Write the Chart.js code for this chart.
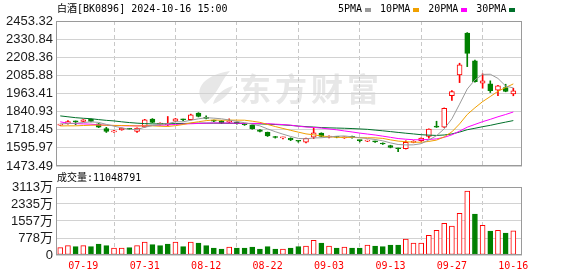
<!DOCTYPE html>
<html><head><meta charset="utf-8">
<script src="https://cdn.jsdelivr.net/npm/chart.js@4.4.1/dist/chart.umd.min.js"></script>
<style>
html,body{margin:0;padding:0;background:#fff;width:578px;height:276px;overflow:hidden;}
#wrap{position:relative;width:578px;height:276px;}
canvas{position:absolute;left:0;top:0;}
.t{position:absolute;font-family:"DejaVu Sans Mono","Noto Sans CJK SC",monospace;font-size:10px;line-height:14px;color:#000;white-space:pre;}
#legend{display:flex;align-items:center;}
#legend .sq{display:inline-block;width:6px;height:4px;margin:1px 9px 0 3px;}
</style></head><body>
<div id="wrap">
<canvas id="price" width="578" height="276"></canvas>
<canvas id="vol" width="578" height="276"></canvas>
<div class="t" id="title" style="left:57px;top:2px;"></div>
<div class="t" id="legend" style="left:338px;top:2px;"></div>
<div class="t" id="volLabel" style="left:57px;top:171px;"></div>
</div>
<script>
// ---------- data ----------
const titleText = '白酒[BK0896] 2024-10-16 15:00';
const volumeText = '成交量:11048791';
const dates = ['07-16','07-17','07-18','07-19','07-22','07-23','07-24','07-25','07-26','07-29',
 '07-30','07-31','08-01','08-02','08-05','08-06','08-07','08-08','08-09','08-12',
 '08-13','08-14','08-15','08-16','08-19','08-20','08-21','08-22','08-23','08-26',
 '08-27','08-28','08-29','08-30','09-02','09-03','09-04','09-05','09-06','09-09',
 '09-10','09-11','09-12','09-13','09-18','09-19','09-20','09-23','09-24','09-25',
 '09-26','09-27','09-30','10-08','10-09','10-10','10-11','10-14','10-15','10-16'];
const axisDates = ['07-19','07-31','08-12','08-22','09-03','09-13','09-27','10-16'];
const priceTicks = ['1473.49','1595.97','1718.45','1840.93','1963.41','2085.88','2208.36','2330.84','2453.32'];
const volumeTicks = ['0','778万','1557万','2335万','3113万'];
const maNames = ['5PMA','10PMA','20PMA','30PMA'];

const openP  = [1750,1759,1776,1774,1789,1759,1727,1703,1718,1724,1707,1738,1791,1756,1753,1777,1787,1786,1831,1797,
 1781,1778,1769,1768,1759,1748,1718,1701,1669,1664,1661,1643,1634,1668,1696,1668,1671,1664,1671,1648,
 1642,1640,1628,1612,1593,1590,1633,1644,1673,1740,1736,1949,2089,2372,2184,2033,2028,1986,2004,1961];
const highP  = [1756,1780,1778,1787,1791,1761,1735,1714,1731,1727,1731,1789,1794,1766,1808,1795,1791,1824,1834,1812,
 1784,1781,1792,1770,1762,1752,1720,1703,1674,1669,1664,1644,1662,1732,1698,1677,1673,1671,1675,1649,
 1649,1642,1630,1614,1594,1644,1645,1664,1725,1776,1866,1983,2168,2375,2190,2096,2049,2018,2026,1999];
const lowP   = [1747,1756,1752,1772,1772,1733,1700,1700,1715,1719,1700,1735,1765,1750,1745,1774,1780,1784,1805,1792,
 1773,1760,1766,1756,1748,1722,1704,1673,1662,1656,1645,1634,1630,1658,1670,1663,1664,1660,1662,1636,
 1638,1632,1619,1596,1570,1588,1630,1640,1662,1734,1733,1916,2037,2145,2040,1999,1970,1948,1975,1948];
const closeP = [1753,1774,1772,1785,1774,1736,1707,1711,1729,1722,1729,1786,1768,1760,1757,1792,1785,1819,1808,1795,
 1777,1763,1779,1759,1752,1726,1707,1676,1666,1668,1649,1641,1660,1698,1673,1675,1668,1669,1667,1645,
 1647,1636,1622,1599,1590,1633,1638,1662,1723,1736,1864,1977,2157,2235,2044,2049,1983,2015,1977,1981];
const prevClose = 1745;
// volume in 万
const volume = [334,426,381,426,381,504,426,320,320,334,426,595,473,426,504,595,381,595,549,426,
 320,275,366,320,320,366,275,381,275,275,320,381,412,672,549,412,320,366,320,320,
 458,412,381,458,458,732,549,549,900,1130,1450,1328,1908,2930,1877,1358,1099,1130,1007,1105];

const ma5 = [1758,1760,1763,1767,1771.6,1768.2,1754.8,1742.6,1731.4,1721,1719.6,1735.4,1746.8,1753,1760,1772.6,1772.4,1782.6,1792.2,1799.8,
 1796.8,1792.4,1784.4,1774.6,1766,1755.8,1744.6,1724,1705.4,1688.6,1673.2,1660,1656.8,1663.2,1664.2,1669.4,1674.8,1676.6,1670.4,1664.8,
 1659.2,1652.8,1643.4,1629.8,1618.8,1616,1616.4,1624.4,1649.2,1678.4,1724.6,1792.4,1891.4,1993.8,2055.4,2092.4,2093.6,2065.2,2013.6,2001];
const ma10 = [1744,1745,1745,1747,1749,1750,1749,1748,1747,1746.3,1743.9,1745.1,1744.7,1742.2,1740.5,1746.1,1753.9,1764.7,1772.6,1779.9,
 1784.7,1782.4,1783.5,1783.4,1782.9,1776.3,1768.5,1754.2,1740,1727.3,1714.5,1702.3,1690.4,1684.3,1676.4,1671.3,1667.4,1666.7,1666.8,1664.5,
 1664.3,1663.8,1660,1650.1,1641.8,1637.6,1634.6,1633.9,1639.5,1648.6,1670.3,1704.4,1757.9,1821.5,1866.9,1908.5,1943,1978.3,2003.7,2028.2];
const ma20 = [1772,1762,1760,1758,1756,1752,1749,1747,1746,1745,1745,1746,1747,1749,1751,1754,1757,1759,1761,1763.1,
 1764.3,1763.8,1764.1,1762.8,1761.7,1761.2,1761.2,1759.5,1756.3,1753.6,1749.6,1742.4,1737,1733.9,1729.7,1723.8,1718,1710.5,1703.4,1695.9,
 1689.4,1683.1,1675.2,1667.2,1659.1,1654.5,1651,1650.3,1653.2,1656.6,1667.3,1684.1,1709,1735.8,1754.4,1773.1,1788.8,1806.1,1821.6,1838.4];
const ma30 = [1812,1806,1800,1796,1793,1787,1782,1778,1772,1767,1763,1760,1758,1758,1759,1760,1761,1762,1763,1763,
 1763,1763,1762,1762,1761,1760,1758,1756,1754,1751.2,1747.7,1743.3,1739.5,1736.6,1733.3,1731.2,1729.9,1728.5,1726.5,1723.9,
 1721.2,1716.2,1711.3,1705.9,1700.4,1695.1,1690.2,1684.9,1682.1,1680.1,1683,1690.2,1702.8,1718.6,1728.4,1739.1,1748.3,1759.6,1770,1780.4];

// ---------- styles ----------
const RED = '#ff0000', GREEN = '#008000';
const MA_COLORS = ['#9a9a9a','#f0a000','#ff00ff','#00702a'];
const FRAME = '#9a9a9a', GRID = '#d2d2d2', VGRID = '#c8c8c8';
const AXIS_FONT = {family:'"Liberation Sans","Noto Sans CJK SC",Arial,sans-serif', size:13};
const X_MIN = -0.555, X_MAX = 60.13;

document.getElementById('title').textContent = titleText;
document.getElementById('volLabel').textContent = volumeText;
const lg = document.getElementById('legend');
maNames.forEach((n,k)=>{
  const s = document.createElement('span'); s.textContent = n; lg.appendChild(s);
  const q = document.createElement('span'); q.className='sq'; q.style.background = MA_COLORS[k]; lg.appendChild(q);
});

const idx = dates.map((d,i)=>i);
const isUp = i => closeP[i] >= openP[i];
const volUp = i => closeP[i] >= (i === 0 ? prevClose : closeP[i-1]);
const tickIdx = axisDates.map(d => dates.indexOf(d));

const framePlugin = {
  id:'frame',
  afterDatasetsDraw(chart){
    const {ctx, chartArea:a} = chart;
    ctx.save(); ctx.strokeStyle = FRAME; ctx.lineWidth = 1;
    ctx.strokeRect(a.left+0.5, a.top+0.5, a.right-a.left-1, a.bottom-a.top-1);
    ctx.restore();
  }
};
const watermark = {
  id:'watermark',
  beforeDraw(chart){
    const ctx = chart.ctx; ctx.save();
    ctx.fillStyle = '#e7e7e7';
    ctx.beginPath();
    ctx.moveTo(205,104); ctx.bezierCurveTo(193,92,200,76,230,71);
    ctx.bezierCurveTo(221,80,219,93,205,104); ctx.fill();
    ctx.beginPath();
    ctx.moveTo(213,104); ctx.bezierCurveTo(215,95,224,88,233,86);
    ctx.bezierCurveTo(229,94,222,101,213,104); ctx.fill();
    ctx.font = 'bold 32px "Noto Sans CJK SC"';
    ctx.letterSpacing = '4px';
    ctx.textBaseline = 'middle';
    ctx.fillText('东方财富', 239, 89);
    ctx.restore();
  }
};

const xScaleBase = {
  type:'linear', min:X_MIN, max:X_MAX, offset:false,
  afterBuildTicks: s => { s.ticks = tickIdx.map(v => ({value:v})); },
  grid:{color:VGRID, drawTicks:false},
  border:{display:false, dash:[4,3]}
};

new Chart(document.getElementById('price'), {
  type:'bar',
  data:{datasets:[
    ...[ma5,ma10,ma20,ma30].map((arr,k)=>({
      type:'line', label:maNames[k], data:arr.map((v,i)=>({x:i,y:v})),
      borderColor:MA_COLORS[k], borderWidth:1, pointRadius:0, tension:0, fill:false, order:-4+k
    })),
    {label:'body', data:idx.map(i=>({x:i,y:[openP[i],closeP[i]]})), order:0,
     grouped:false, barThickness:5, borderWidth:1, borderSkipped:false, minBarLength:1,
     backgroundColor:c=>isUp(c.dataIndex)?'#ffffff':GREEN,
     borderColor:c=>isUp(c.dataIndex)?RED:GREEN},
    {label:'wick', data:idx.map(i=>({x:i,y:[lowP[i],highP[i]]})), order:1,
     grouped:false, barThickness:1, borderWidth:0, minBarLength:1,
     backgroundColor:c=>isUp(c.dataIndex)?RED:GREEN}
  ]},
  options:{
    responsive:false, animation:false,
    layout:{padding:{left:0,top:21,right:56,bottom:110}},
    plugins:{legend:{display:false}, tooltip:{enabled:false}},
    scales:{
      x:{...xScaleBase, ticks:{display:false}},
      y:{type:'linear', min:+priceTicks[0], max:+priceTicks[priceTicks.length-1],
         afterBuildTicks: s => { s.ticks = priceTicks.map(t=>({value:+t})); },
         afterFit: s => { s.width = 56; },
         ticks:{callback:(v,i)=>priceTicks[i], autoSkip:false, font:AXIS_FONT, color:'#1a1a1a', padding:3},
         grid:{color:GRID, drawTicks:false}, border:{display:false}}
    }
  },
  plugins:[watermark, framePlugin]
});

new Chart(document.getElementById('vol'), {
  type:'bar',
  data:{datasets:[
    {label:'volume', data:idx.map(i=>({x:i,y:volume[i]})), grouped:false, barThickness:5,
     borderWidth:1, borderSkipped:false,
     backgroundColor:c=>volUp(c.dataIndex)?'#ffffff':GREEN,
     borderColor:c=>volUp(c.dataIndex)?RED:GREEN}
  ]},
  options:{
    responsive:false, animation:false,
    layout:{padding:{left:0,top:187,right:56,bottom:0}},
    plugins:{legend:{display:false}, tooltip:{enabled:false}},
    scales:{
      x:{...xScaleBase,
         afterFit: s => { s.height = 21; },
         ticks:{callback:v=>dates[v], autoSkip:false, maxRotation:0, color:RED, padding:5,
                font:{family:'"DejaVu Sans Mono",monospace', size:10}}},
      y:{type:'linear', min:0, max:parseFloat(volumeTicks[volumeTicks.length-1]),
         afterBuildTicks: s => { s.ticks = volumeTicks.map(t=>({value:parseFloat(t)})); },
         afterFit: s => { s.width = 56; },
         ticks:{callback:(v,i)=>volumeTicks[i], autoSkip:false, font:AXIS_FONT, color:'#1a1a1a', padding:3},
         grid:{color:GRID, drawTicks:false}, border:{display:false}}
    }
  },
  plugins:[framePlugin]
});
</script>
</body></html>
